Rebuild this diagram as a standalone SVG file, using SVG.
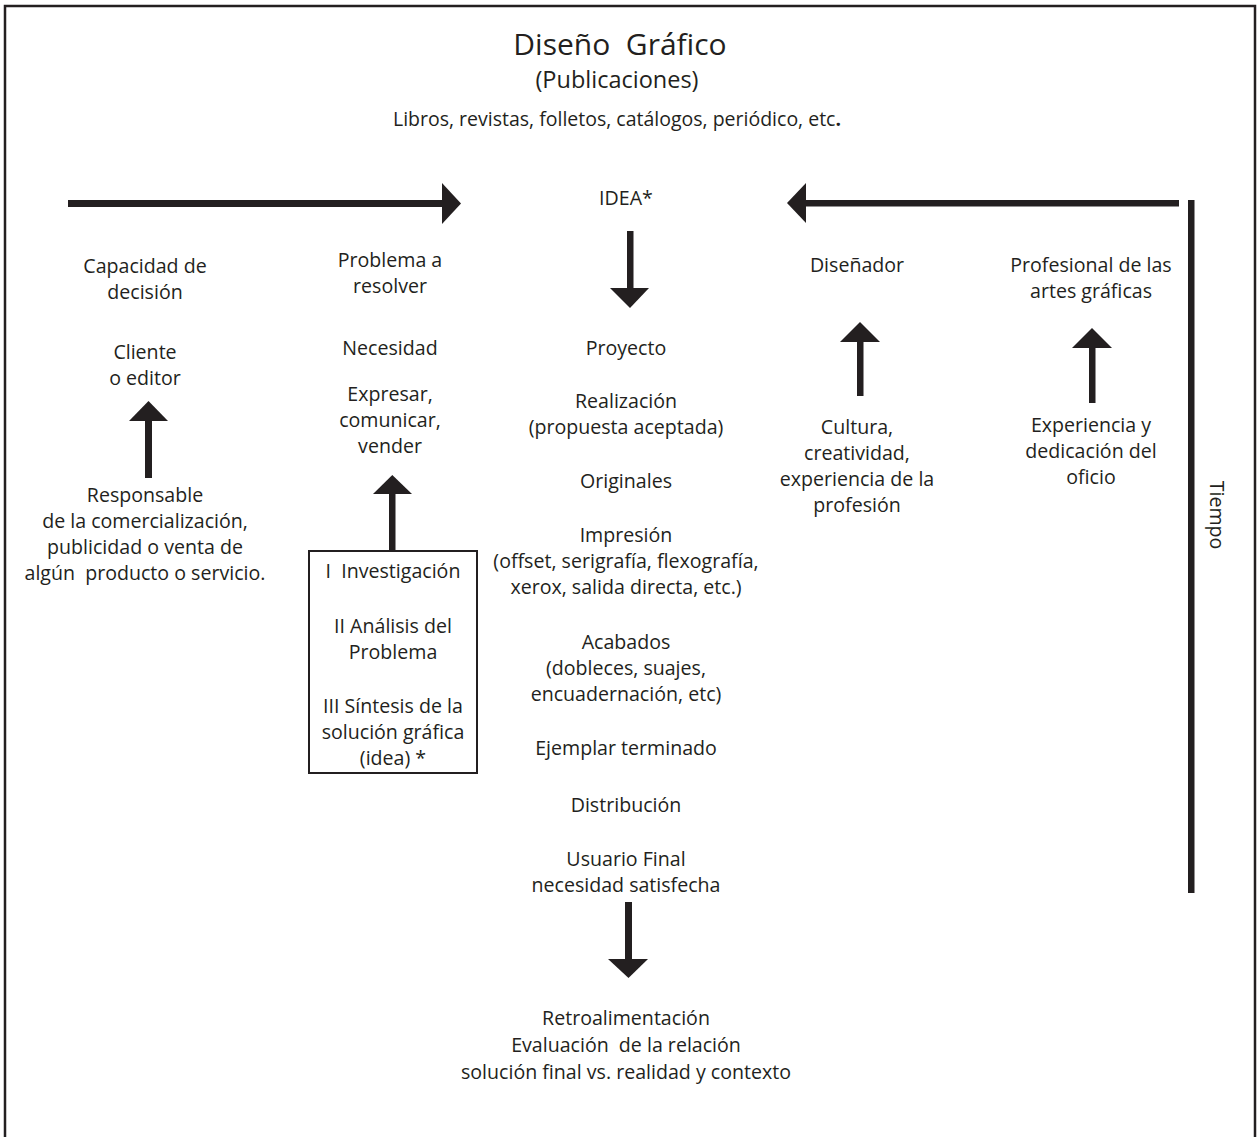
<svg xmlns="http://www.w3.org/2000/svg" width="1257" height="1137" viewBox="0 0 1257 1137">
<style>
text{font-family:"Open Sans","Noto Sans","Liberation Sans",sans-serif;fill:#231f20;text-anchor:middle}
.t{font-size:19.6px}
.title{font-size:30px}
.sub{font-size:23.5px}
.lib{font-size:19.5px}
.ar{fill:#231f20}
.frame{fill:none;stroke:#231f20;stroke-width:2.5}
.box{fill:none;stroke:#231f20;stroke-width:2}
</style>
<rect class="frame" x="5" y="6" width="1250" height="1145"/>
<g id="header">
<text class="title" x="620" y="55" xml:space="preserve">Diseño  Gráfico</text>
<text class="sub" x="617" y="88">(Publicaciones)</text>
<text class="lib" x="617" y="126">Libros, revistas, folletos, catálogos, periódico, etc<tspan font-weight="bold">.</tspan></text>
</g>
<g id="connectors">
<rect class="ar" x="68" y="200" width="376" height="7"/>
<polygon class="ar" points="442,183 461,203.5 442,224"/>
<rect class="ar" x="804" y="200" width="375" height="6.5"/>
<polygon class="ar" points="806,183 787,203 806,223"/>
<rect class="ar" x="627" y="231" width="6.5" height="59"/>
<polygon class="ar" points="610,288 649,288 630,308"/>
<rect class="ar" x="145" y="419" width="7" height="59"/>
<polygon class="ar" points="129,421 168,421 148.5,401"/>
<rect class="ar" x="389" y="492" width="6.5" height="60"/>
<polygon class="ar" points="373,494 412,494 392.3,475"/>
<rect class="ar" x="857" y="340" width="6.5" height="56"/>
<polygon class="ar" points="840,342 880,342 860,322"/>
<rect class="ar" x="1089" y="346" width="6.5" height="57"/>
<polygon class="ar" points="1072,348 1112,348 1092,328"/>
<rect class="ar" x="625" y="902" width="7" height="59"/>
<polygon class="ar" points="608,959 648,959 628.5,978"/>
<rect class="ar" x="1188" y="200" width="6.5" height="693"/>
</g>
<g id="node-idea"><text class="t" x="626" y="205">IDEA*</text></g>
<g id="node-capacidad">
<text class="t" x="145" y="273">Capacidad de</text>
<text class="t" x="145" y="299">decisión</text>
</g>
<g id="node-cliente">
<text class="t" x="145" y="359">Cliente</text>
<text class="t" x="145" y="385">o editor</text>
</g>
<g id="node-responsable">
<text class="t" x="145" y="502">Responsable</text>
<text class="t" x="145" y="528">de la comercialización,</text>
<text class="t" x="145" y="554">publicidad o venta de</text>
<text class="t" x="145" y="580" xml:space="preserve">algún  producto o servicio.</text>
</g>
<g id="node-problema">
<text class="t" x="390" y="267">Problema a</text>
<text class="t" x="390" y="293">resolver</text>
</g>
<g id="node-necesidad"><text class="t" x="390" y="355">Necesidad</text></g>
<g id="node-expresar">
<text class="t" x="390" y="401">Expresar,</text>
<text class="t" x="390" y="427">comunicar,</text>
<text class="t" x="390" y="453">vender</text>
</g>
<g id="node-metodo">
<rect class="box" x="309" y="551" width="168" height="222"/>
<text class="t" x="393" y="578" xml:space="preserve">I  Investigación</text>
<text class="t" x="393" y="633">II Análisis del</text>
<text class="t" x="393" y="659">Problema</text>
<text class="t" x="393" y="713">III Síntesis de la</text>
<text class="t" x="393" y="739">solución gráfica</text>
<text class="t" x="393" y="765">(idea) *</text>
</g>
<g id="node-proceso">
<text class="t" x="626" y="355">Proyecto</text>
<text class="t" x="626" y="408">Realización</text>
<text class="t" x="626" y="434">(propuesta aceptada)</text>
<text class="t" x="626" y="488">Originales</text>
<text class="t" x="626" y="542">Impresión</text>
<text class="t" x="626" y="568">(offset, serigrafía, flexografía,</text>
<text class="t" x="626" y="594">xerox, salida directa, etc.)</text>
<text class="t" x="626" y="649">Acabados</text>
<text class="t" x="626" y="675">(dobleces, suajes,</text>
<text class="t" x="626" y="701">encuadernación, etc)</text>
<text class="t" x="626" y="755">Ejemplar terminado</text>
<text class="t" x="626" y="812">Distribución</text>
<text class="t" x="626" y="866">Usuario Final</text>
<text class="t" x="626" y="892">necesidad satisfecha</text>
</g>
<g id="node-retro">
<text class="t" x="626" y="1025">Retroalimentación</text>
<text class="t" x="626" y="1052" xml:space="preserve">Evaluación  de la relación</text>
<text class="t" x="626" y="1079">solución final vs. realidad y contexto</text>
</g>
<g id="node-disenador"><text class="t" x="857" y="272">Diseñador</text></g>
<g id="node-cultura">
<text class="t" x="857" y="434">Cultura,</text>
<text class="t" x="857" y="460">creatividad,</text>
<text class="t" x="857" y="486">experiencia de la</text>
<text class="t" x="857" y="512">profesión</text>
</g>
<g id="node-profesional">
<text class="t" x="1091" y="272">Profesional de las</text>
<text class="t" x="1091" y="298">artes gráficas</text>
</g>
<g id="node-experiencia">
<text class="t" x="1091" y="432">Experiencia y</text>
<text class="t" x="1091" y="458">dedicación del</text>
<text class="t" x="1091" y="484">oficio</text>
</g>
<g id="node-tiempo"><text class="t" transform="translate(1210,515) rotate(90)" x="0" y="0">Tiempo</text></g>
</svg>
